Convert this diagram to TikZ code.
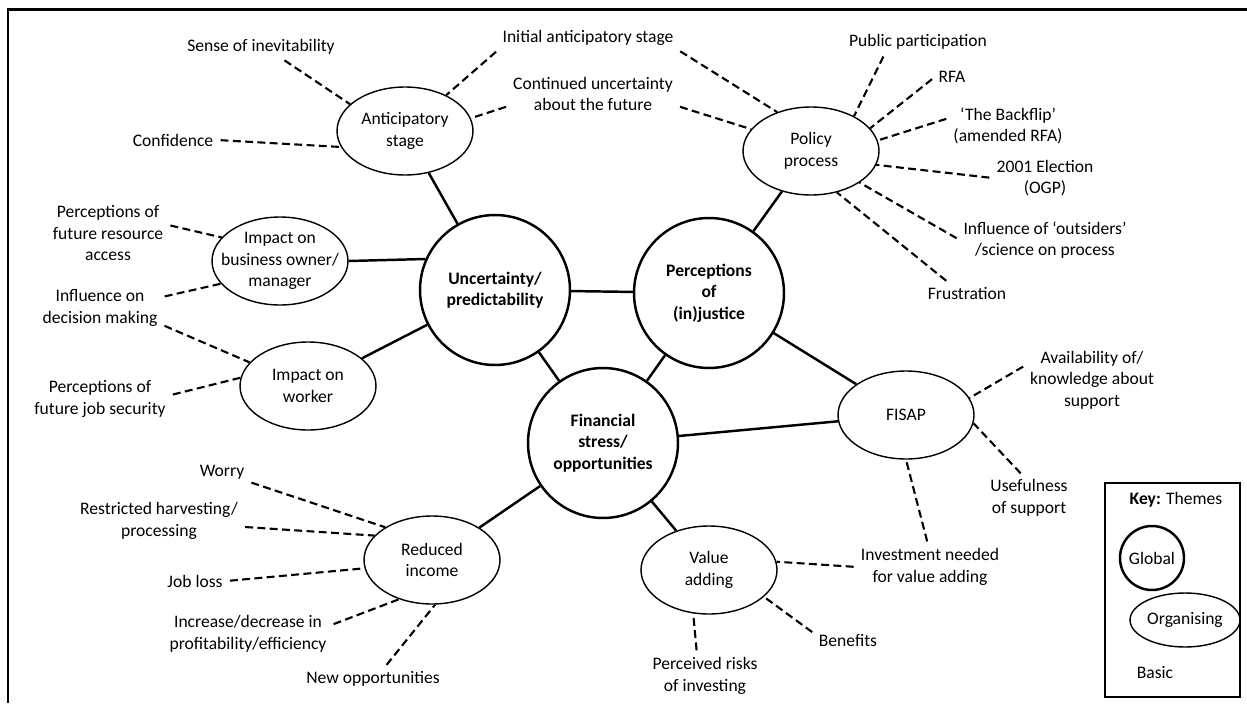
\documentclass[tikz,border=0pt]{standalone}
\usepackage{fontspec}
\setmainfont{Carlito}
\usepackage{tikz}
\usetikzlibrary{positioning,shapes}

\begin{document}
\begin{tikzpicture}[x=0.02cm,y=-0.02cm]
\tikzstyle{every node}+=[font=\fontsize{10}{12.2}\selectfont, align=center, inner sep=2pt]
\tikzstyle{global}=[circle, draw, line width=1.4pt, minimum size=3cm, font=\fontsize{10}{12.2}\selectfont\bfseries]
\tikzstyle{organising}=[ellipse, draw, line width=0.8pt, minimum width=2.72cm, minimum height=1.76cm, inner sep=0pt]
\tikzstyle{link}=[line width=1.4pt]
\tikzstyle{dashlink}=[line width=1.2pt, dash pattern=on 4.5pt off 2.5pt, shorten <=2pt]
\useasboundingbox (0,0) rectangle (1247,703);
\draw [line width=1.6pt] (8,703) -- (8,9.5) -- (1247,9.5);
\node [global] (unc) at (495,290) {Uncertainty/\\predictability};
\node [global] (per) at (709,293) {Perceptions\\of\\(in)justice};
\node [global] (fin) at (603,443) {Financial\\stress/\\opportunities};
\node [organising] (ant) at (405,131) {};
\node (ant-l) at (ant) {Anticipatory\\stage};
\node [organising] (pol) at (811,151) {};
\node (pol-l) at (pol) {Policy\\process};
\node [organising] (bus) at (280,261) {};
\node (bus-l) at (bus) {Impact on\\business owner/\\manager};
\node [organising] (wor) at (308,386) {};
\node (wor-l) at (wor) {Impact on\\worker};
\node [organising] (fis) at (906,415) {};
\node (fis-l) at (fis) {FISAP};
\node [organising] (red) at (432,560) {};
\node (red-l) at (red) {Reduced\\income};
\node [organising] (val) at (709,570) {};
\node (val-l) at (val) {Value\\adding};
\node (sense) at (261,47) {Sense of inevitability};
\node (conf) at (173,140) {Confidence};
\node (initial) at (588,38) {Initial anticipatory stage};
\node (cont) at (593,94) {Continued uncertainty\\about the future};
\node (public) at (918,42) {Public participation};
\node (rfa) at (952,77) {RFA};
\node (backflip) at (1008,126) {‘The Backflip’\\(amended RFA)};
\node (election) at (1045,178) {2001 Election\\(OGP)};
\node (outsiders) at (1045,240) {Influence of ‘outsiders’\\/science on process};
\node (frustration) at (967,293) {Frustration};
\node (resource) at (108,233) {Perceptions of\\future resource\\access};
\node (decision) at (100,308) {Influence on\\decision making};
\node (jobsec) at (100,399) {Perceptions of\\future job security};
\node (avail) at (1092,380) {Availability of/\\knowledge about\\support};
\node (useful) at (1029,498) {Usefulness\\of support};
\node (invest) at (930,567) {Investment needed\\for value adding};
\node (benefits) at (848,640) {Benefits};
\node (risks) at (705,676) {Perceived risks\\of investing};
\node (worry) at (222,472) {Worry};
\node (restricted) at (159,521) {Restricted harvesting/\\processing};
\node (jobloss) at (195,581) {Job loss};
\node (profit) at (248,634) {Increase/decrease in\\profitability/efficiency};
\node (newopp) at (373,679) {New opportunities};
\draw [link] (ant) -- (unc);
\draw [link] (bus.east) -- (unc.156);
\draw [link] (wor) -- (unc);
\draw [link] (unc) -- (per);
\draw [link] (unc) -- (fin);
\draw [link] (per) -- (fin);
\draw [link] (pol) -- (per);
\draw [link] (per) -- (fis);
\draw [link] (fin) -- (fis);
\draw [link] (fin) -- (red);
\draw [link] (fin) -- (val);
\draw [dashlink] (sense.-29) -- (ant.154);
\draw [dashlink] (conf.east) -- (ant.194);
\draw [dashlink] (initial.south west) -- (ant.41);
\draw [dashlink] (initial.south east) -- (pol.131);
\draw [dashlink] (cont.188) -- (ant.11);
\draw [dashlink] (cont.-8) -- (pol.160);
\draw [dashlink] (public.-161) -- (pol.39);
\draw [dashlink] (rfa.west) -- (pol.21);
\draw [dashlink] (backflip.172) -- (pol.9);
\draw [dashlink] (election.west) -- (pol.-12);
\draw [dashlink] (outsiders.west) -- (pol.-33);
\draw [dashlink] (frustration.151) -- (pol.-58);
\draw [dashlink] (resource.8) -- (bus.158);
\draw [dashlink] (decision.10) -- (bus.201);
\draw [dashlink] (decision.-15) -- (wor.158);
\draw [dashlink] (jobsec.3) -- (wor.173);
\draw [dashlink] (avail.167) -- (fis.15);
\draw [dashlink] (useful.105) -- (fis.-7);
\draw [dashlink] (invest.95) -- (fis.-90);
\draw [dashlink] (invest.west) -- (val.7);
\draw [dashlink] (benefits.170) -- (val.-26);
\draw [dashlink] (risks.110) -- (val.-110);
\draw [dashlink] (worry.-20) -- (red.145);
\draw [dashlink] (restricted.-4) -- (red.157);
\draw [dashlink] (jobloss.east) -- (red.187);
\draw [dashlink] (profit.6) -- (red.230);
\draw [dashlink] (newopp.45) -- (red.-86);
\draw [line width=0.8pt] (1105,483) rectangle (1240,697);
\node (keyt) at (1176,500) {\textbf{Key:} Themes};
\node [global, minimum size=1.28cm, font=\fontsize{10}{12.2}\selectfont] (keyg) at (1152,558) {Global};
\node [organising, minimum width=2.2cm, minimum height=1.08cm] (keyo) at (1185,620) {};
\node (keyo-l) at (keyo) {Organising};
\node (keyb) at (1155,673) {Basic};
\end{tikzpicture}
\end{document}
